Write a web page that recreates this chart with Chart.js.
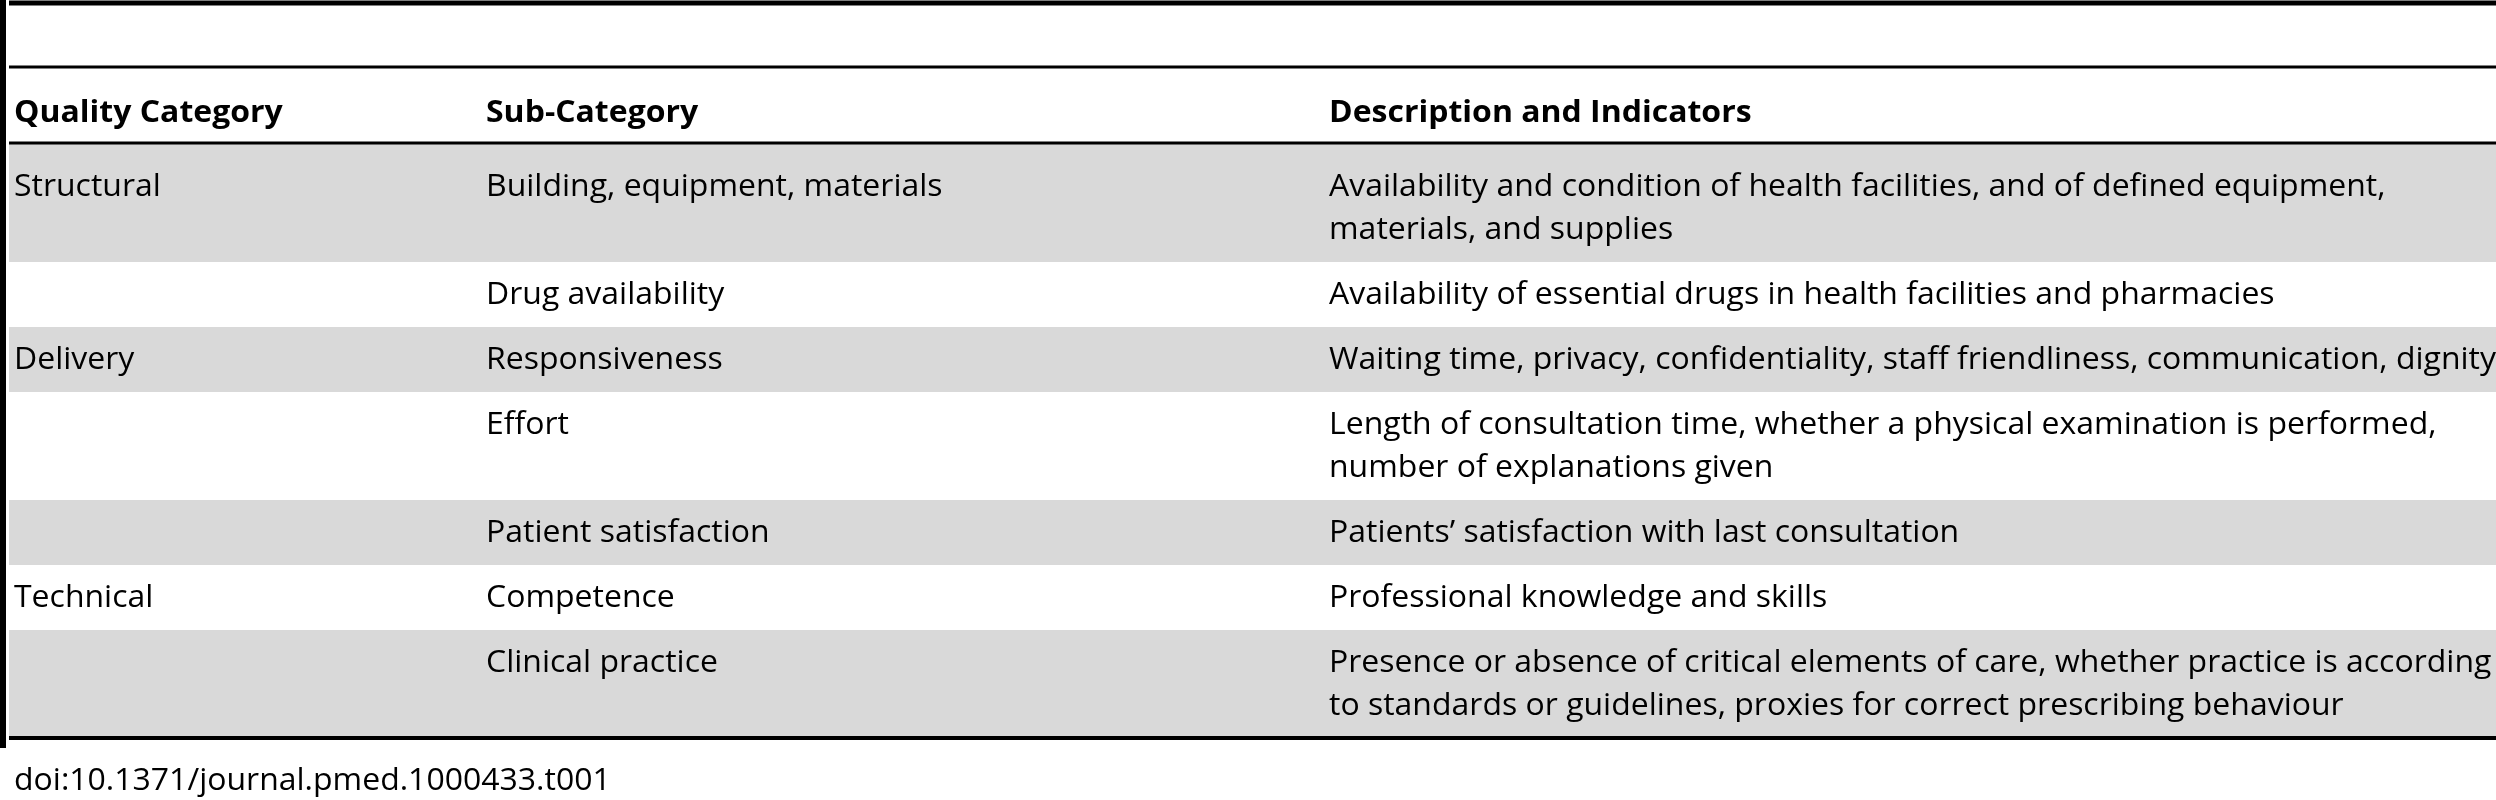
<!DOCTYPE html>
<html>
<head>
<meta charset="utf-8">
<script src="https://cdn.jsdelivr.net/npm/chart.js@4/dist/chart.umd.min.js"></script>
<style>
  html, body { margin: 0; padding: 0; background: #fff; }
  #wrap { width: 2496px; height: 800px; }
</style>
</head>
<body>
<div id="wrap"><canvas id="tbl"></canvas></div>
<script>
// Tabelle als Chart.js-Diagramm: Zeilen und Texte werden über die Skalen gezeichnet

const headers = ['Quality Category', 'Sub-Category', 'Description and Indicators'];
const categories = ['Structural', '', 'Delivery', '', '', 'Technical', ''];
const subCategories = ['Building, equipment, materials', 'Drug availability', 'Responsiveness', 'Effort',
  'Patient satisfaction', 'Competence', 'Clinical practice'];
const descriptions = [
  ['Availability and condition of health facilities, and of defined equipment,', 'materials, and supplies'],
  ['Availability of essential drugs in health facilities and pharmacies'],
  ['Waiting time, privacy, confidentiality, staff friendliness, communication, dignity'],
  ['Length of consultation time, whether a physical examination is performed,', 'number of explanations given'],
  ['Patients\u2019 satisfaction with last consultation'],
  ['Professional knowledge and skills'],
  ['Presence or absence of critical elements of care, whether practice is according', 'to standards or guidelines, proxies for correct prescribing behaviour'],
];
const shaded = [true, false, true, false, true, false, true];
const footnote = 'doi:10.1371/journal.pmed.1000433.t001';

const colX = [14, 486, 1329];
const FONT = '"Open Sans", sans-serif';
const SIZE = 31;
const LINE = 43;

const tablePlugin = {
  id: 'tablePlugin',
  beforeDatasetsDraw(chart) {
    const { ctx, scales: { x, y } } = chart;
    ctx.save();
    ctx.textBaseline = 'middle';

    // Schmalschrift-Faktor: längste Zeile soll ca. 1167px breit sein
    ctx.font = `${SIZE}px ${FONT}`;
    const squeeze = 1167 / ctx.measureText(descriptions[2][0]).width;
    const text = (s, px, py, bold) => {
      ctx.font = `${bold ? 'bold ' : ''}${SIZE}px ${FONT}`;
      ctx.save();
      ctx.translate(x.getPixelForValue(px), y.getPixelForValue(py));
      ctx.scale(squeeze, 1);
      ctx.fillStyle = '#000';
      ctx.fillText(s, 0, 0);
      ctx.restore();
    };
    const hline = (py, w) => {
      ctx.fillStyle = '#000';
      ctx.fillRect(x.getPixelForValue(9), y.getPixelForValue(py) - w / 2, x.getPixelForValue(2496) - x.getPixelForValue(9), w);
    };

    // Zeilen
    let top = 143;
    subCategories.forEach((sub, i) => {
      const lines = descriptions[i].length;
      const extra = i === 0 ? 11 : 0;
      const h = 22 + LINE * lines + extra;
      if (shaded[i]) {
        ctx.fillStyle = '#d9d9d9';
        ctx.fillRect(x.getPixelForValue(9), y.getPixelForValue(top), x.getPixelForValue(2496) - x.getPixelForValue(9), h);
      }
      const cy = top + 33 + extra;
      if (categories[i]) text(categories[i], colX[0], cy);
      text(sub, colX[1], cy);
      descriptions[i].forEach((d, k) => text(d, colX[2], cy + k * LINE));
      top += h;
    });

    headers.forEach((h, i) => text(h, colX[i], 113, true));

    hline(3, 5);
    hline(67, 3);
    hline(143, 3);
    hline(top, 4);

    // linker Rand
    ctx.fillStyle = '#000';
    ctx.fillRect(x.getPixelForValue(0), y.getPixelForValue(0), 6, y.getPixelForValue(748) - y.getPixelForValue(0));

    text(footnote, 14, 781);
    ctx.restore();
  },
};

new Chart(document.getElementById('tbl'), {
  type: 'scatter',
  data: { datasets: [{ data: [], pointRadius: 0 }] },
  options: {
    responsive: true,
    maintainAspectRatio: false,
    animation: false,
    layout: { padding: 0 },
    plugins: { legend: { display: false }, tooltip: { enabled: false } },
    scales: {
      x: { type: 'linear', min: 0, max: 2496, display: false },
      y: { type: 'linear', min: 0, max: 800, reverse: true, display: false },
    },
  },
  plugins: [tablePlugin],
});
</script>
</body>
</html>
